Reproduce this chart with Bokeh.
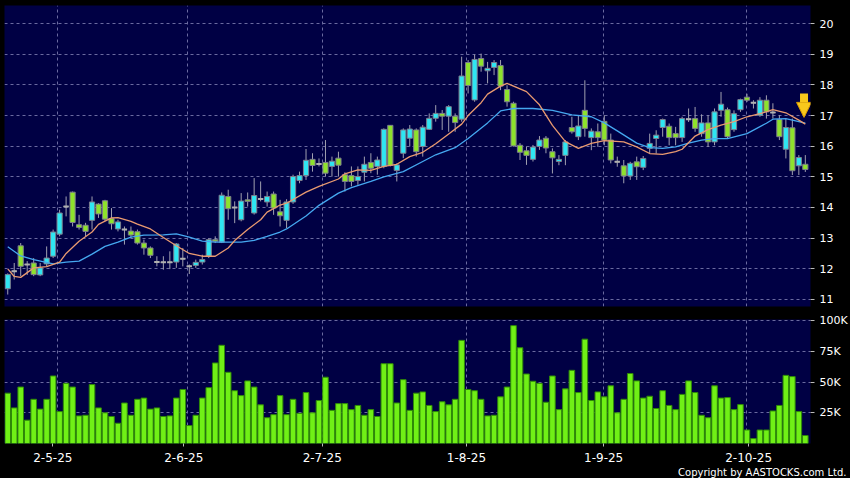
from bokeh.plotting import figure
from bokeh.layouts import column
from bokeh.models import (FixedTicker, Arrow, NormalHead, Title, ColumnDataSource,
                          Range1d)
from bokeh.embed import file_html
from bokeh.resources import INLINE

# ---------------- data ----------------
open_ = [11.35, 11.92, 12.75, 12.14, 12.19, 11.80, 12.16, 12.41, 13.13, 14.03,
         14.50, 13.44, 13.42, 13.58, 14.11, 14.22, 13.64, 13.30, 13.28, 13.23,
         13.21, 12.84, 12.68, 12.22, 12.21, 12.21, 12.22, 12.33, 12.08, 12.11,
         12.22, 12.41, 12.95, 12.87, 14.36, 14.00, 13.60, 14.25, 13.82, 14.28,
         14.18, 14.44, 13.86, 13.58, 14.18, 14.88, 15.04, 15.57, 15.42, 15.47,
         15.34, 15.61, 15.07, 15.04, 14.88, 15.15, 15.47, 15.34, 15.34, 16.68,
         15.21, 15.77, 16.26, 16.53, 15.99, 16.55, 16.91, 17.07, 16.98, 16.98,
         16.88, 18.73, 17.51, 18.86, 18.46, 18.57, 18.63, 17.85, 17.40, 16.03,
         15.85, 15.57, 15.99, 16.26, 15.82, 15.50, 15.70, 16.61, 16.31, 17.17,
         16.28, 16.47, 16.81, 16.20, 15.49, 15.36, 15.03, 15.49, 15.31, 15.93,
         16.25, 16.61, 16.65, 16.41, 16.28, 16.88, 16.90, 16.41, 16.76, 16.14,
         17.17, 17.19, 16.54, 17.19, 17.60, 17.42, 17.01, 17.50, 17.10, 16.87,
         15.90, 16.60, 15.36, 15.41]
high = [11.85, 12.19, 12.84, 12.25, 12.35, 12.19, 12.73, 13.28, 13.93, 14.36,
        14.52, 13.76, 13.50, 14.36, 14.14, 14.25, 13.98, 13.60, 13.38, 13.38,
        13.28, 12.95, 12.73, 12.41, 12.41, 12.57, 12.84, 12.68, 12.14, 12.30,
        12.46, 13.00, 13.06, 14.49, 14.58, 14.20, 14.47, 14.49, 14.96, 14.85,
        14.52, 14.52, 14.25, 14.27, 15.07, 15.17, 15.91, 15.77, 15.60, 16.20,
        15.66, 15.82, 15.15, 15.34, 15.34, 15.66, 15.77, 15.66, 16.58, 16.69,
        15.44, 16.58, 16.69, 16.58, 16.69, 17.07, 17.34, 17.18, 17.34, 17.07,
        18.92, 18.81, 18.99, 19.02, 18.75, 18.81, 18.81, 17.99, 17.45, 16.10,
        15.99, 16.04, 16.33, 16.33, 15.93, 15.71, 16.20, 16.96, 17.01, 18.15,
        16.58, 16.74, 17.01, 16.41, 15.66, 15.55, 15.49, 15.66, 15.68, 16.41,
        16.52, 16.90, 16.74, 16.63, 16.96, 17.23, 17.28, 17.04, 17.01, 17.23,
        17.77, 17.26, 17.17, 17.55, 17.71, 17.50, 17.60, 17.66, 17.40, 17.01,
        16.90, 16.90, 15.71, 15.71]
low = [11.16, 11.65, 11.76, 11.80, 11.76, 11.76, 12.08, 12.35, 13.06, 13.71,
       13.38, 13.28, 13.06, 13.28, 13.66, 13.55, 13.28, 13.22, 12.79, 13.00,
       12.79, 12.46, 12.35, 12.08, 11.97, 11.99, 12.03, 12.08, 11.83, 12.03,
       12.14, 12.35, 12.84, 12.84, 13.60, 13.49, 13.55, 14.03, 13.77, 14.20,
       14.03, 13.76, 13.38, 13.33, 14.12, 14.79, 14.90, 15.17, 15.34, 15.01,
       15.01, 15.01, 14.52, 14.69, 14.74, 14.85, 15.12, 15.07, 15.28, 15.34,
       14.85, 15.61, 15.99, 15.66, 15.66, 16.53, 16.80, 16.53, 16.47, 16.47,
       16.80, 17.72, 17.45, 18.43, 18.05, 18.32, 17.83, 17.29, 15.99, 15.55,
       15.39, 15.50, 15.88, 15.77, 15.11, 15.38, 15.38, 16.41, 16.20, 16.31,
       15.87, 15.98, 16.03, 15.44, 15.33, 14.79, 14.90, 14.90, 15.22, 15.76,
       15.76, 16.31, 16.03, 16.03, 16.14, 16.79, 16.47, 16.31, 15.98, 16.03,
       16.96, 16.25, 16.47, 17.12, 17.44, 17.23, 16.96, 16.90, 16.90, 16.20,
       15.60, 15.06, 15.06, 15.16]
close = [11.81, 11.92, 12.08, 12.14, 11.81, 12.03, 12.35, 13.20, 13.82, 14.03,
         13.51, 13.35, 13.22, 14.18, 13.79, 13.62, 13.47, 13.53, 13.28, 13.10,
         12.84, 12.68, 12.44, 12.22, 12.21, 12.21, 12.81, 12.33, 12.08, 12.21,
         12.30, 12.95, 12.90, 14.40, 13.96, 14.00, 14.21, 14.20, 14.39, 14.28,
         14.36, 13.98, 13.73, 14.18, 15.01, 15.04, 15.54, 15.37, 15.42, 15.12,
         15.51, 15.38, 14.85, 14.85, 15.01, 15.41, 15.28, 15.55, 16.55, 15.37,
         15.39, 16.53, 16.56, 15.82, 16.62, 16.91, 17.07, 16.98, 17.29, 16.77,
         18.29, 17.98, 18.83, 18.61, 18.54, 18.73, 17.96, 17.45, 16.01, 15.80,
         15.70, 15.97, 16.20, 15.94, 15.62, 15.57, 16.14, 16.47, 16.66, 16.58,
         16.49, 16.28, 16.20, 15.55, 15.49, 15.03, 15.44, 15.33, 15.60, 16.09,
         16.36, 16.87, 16.28, 16.28, 16.90, 16.88, 16.58, 16.76, 16.14, 17.12,
         17.37, 16.31, 17.06, 17.52, 17.50, 17.42, 17.50, 17.12, 17.10, 16.31,
         16.61, 15.20, 15.63, 15.24]
volume_k = [41, 29, 46, 19, 36, 28, 36, 55, 26, 49,
            46, 22.5, 23, 48, 29, 25, 22, 16.5, 33, 23,
            36, 37, 28, 29, 22, 22.5, 37, 44, 14.6, 23,
            37, 45.5, 65.6, 80, 58, 43, 39, 51, 46, 31.5,
            21, 23.5, 39, 23.5, 36, 24.6, 41.5, 25, 35, 54,
            27, 32.5, 32.5, 27.6, 31, 23, 27.6, 22, 65, 65,
            33, 52, 27, 41, 42, 31, 26, 34, 31.5, 36,
            84, 44, 43, 36, 22.5, 23, 38, 46, 96, 78,
            56.6, 50.7, 49, 33.6, 55, 27.6, 44.5, 59.6, 41.5, 85,
            35, 42, 38, 47, 25, 36, 57, 51, 37, 38.5,
            28.5, 43, 31, 27.6, 40, 51, 41.5, 23, 21, 47,
            37, 37.4, 27.6, 31.7, 11, 4, 11, 11, 26.5, 31,
            55.5, 54.5, 26, 6.5]

# short moving average (orange) read at these trading-day indices
ma_short_idx = [0, 1, 2, 4, 6, 8, 9, 11, 13, 14, 16, 17, 19, 20, 22, 24, 26, 28,
                30, 32, 34, 35, 37, 39, 40, 42, 43, 46, 48, 51, 52, 54, 56, 58,
                60, 62, 64, 66, 68, 70, 71, 73, 74, 76, 77, 80, 82, 84, 86, 88,
                90, 92, 95, 97, 99, 101, 103, 104, 106, 108, 110, 112, 114, 116,
                118, 120, 122, 123]
ma_short_val = [12.00, 11.75, 11.72, 12.03, 12.07, 12.22, 12.50, 12.90, 13.20,
                13.45, 13.66, 13.67, 13.55, 13.46, 13.30, 13.02, 12.75, 12.50,
                12.41, 12.41, 12.68, 12.92, 13.28, 13.60, 13.85, 14.08, 14.14,
                14.50, 14.69, 14.93, 15.10, 15.23, 15.21, 15.34, 15.41, 15.66,
                15.80, 16.08, 16.40, 16.72, 17.00, 17.42, 17.70, 17.96, 18.05,
                17.78, 17.35, 16.68, 16.15, 15.93, 16.09, 16.18, 16.14, 15.98,
                15.76, 15.73, 15.82, 15.90, 16.33, 16.54, 16.69, 16.80, 16.96,
                17.06, 17.19, 17.09, 16.85, 16.72]
# long moving average (blue)
ma_long_idx = [0, 2, 4, 7, 9, 11, 13, 15, 17, 19, 21, 24, 26, 28, 30, 32, 36, 38,
               40, 42, 43, 46, 48, 51, 53, 56, 58, 61, 64, 66, 69, 71, 74, 76,
               78, 81, 84, 87, 90, 92, 94, 97, 99, 101, 103, 105, 107, 109, 111,
               114, 117, 118, 120, 122, 123]
ma_long_val = [12.72, 12.42, 12.30, 12.16, 12.22, 12.25, 12.48, 12.73, 12.87,
               13.03, 13.10, 13.11, 13.14, 13.03, 12.90, 12.87, 12.87, 12.93,
               13.06, 13.20, 13.30, 13.72, 14.07, 14.47, 14.65, 14.85, 15.00,
               15.17, 15.50, 15.72, 15.95, 16.25, 16.76, 17.15, 17.23, 17.23,
               17.17, 17.02, 16.96, 16.76, 16.50, 16.10, 15.95, 15.93, 15.98,
               16.10, 16.20, 16.25, 16.25, 16.41, 16.75, 16.88, 16.90, 16.80,
               16.75]

date_tick_labels = ["2-5-25", "2-6-25", "2-7-25", "1-8-25", "1-9-25", "2-10-25"]
date_tick_pos = [6.95, 27.15, 48.5, 70.74, 91.9, 114.26]
date_grid_pos = [7.63, 27.67, 48.58, 70.7, 91.8, 114.0]
price_ticks = [11, 12, 13, 14, 15, 16, 17, 18, 19, 20]
vol_ticks = [25000, 50000, 75000, 100000]
vol_tick_labels = ["25K", "50K", "75K", "100K"]

# ---------------- styling ----------------
BG = "#000044"
GRID = "#6a6aa0"
CYAN = "#2fe6f2"
GREEN = "#8ee22c"
FONT = "DejaVu Sans"
W = 850

n = len(close)
xs = list(range(n))
body_col = []
for o, c in zip(open_, close):
    body_col.append(CYAN if c > o else (GREEN if c < o else "#aaaaaa"))

src = ColumnDataSource(dict(
    x=xs, open=open_, close=close, high=high, low=low,
    top=[max(o, c) for o, c in zip(open_, close)],
    bottom=[min(o, c) for o, c in zip(open_, close)],
    color=body_col,
    vol=[v * 1000 for v in volume_k],
))
doji = ColumnDataSource(dict(
    x0=[i - 0.4 for i in xs if open_[i] == close[i]],
    x1=[i + 0.4 for i in xs if open_[i] == close[i]],
    y=[open_[i] for i in xs if open_[i] == close[i]],
))

xr = Range1d(-0.5, n - 0.2)


def style_common(fig):
    fig.background_fill_color = BG
    fig.border_fill_color = "black"
    fig.outline_line_color = None
    fig.toolbar.logo = None
    for g in fig.xgrid:
        g.ticker = FixedTicker(ticks=date_grid_pos)
        g.grid_line_color = GRID
        g.grid_line_dash = "3 3"
        g.grid_line_width = 1
    for g in fig.ygrid:
        g.grid_line_color = GRID
        g.grid_line_dash = "3 3"
        g.grid_line_width = 1


def style_axis(ax, size, tick_out, standoff):
    ax.axis_line_color = None
    ax.major_tick_line_color = "#bbbbbb"
    ax.major_tick_out = tick_out
    ax.major_tick_in = 0
    ax.minor_tick_line_color = None
    ax.major_label_text_color = "white"
    ax.major_label_text_font = FONT
    ax.major_label_text_font_size = size
    ax.major_label_standoff = standoff


# ---------------- price panel ----------------
p = figure(width=W, height=312, x_range=xr, y_range=Range1d(10.77, 20.59),
           output_backend="svg", toolbar_location=None,
           x_axis_location="below", y_axis_location="right",
           min_border_left=4, min_border_right=40, min_border_top=5,
           min_border_bottom=6)
p.xaxis.visible = False
style_common(p)
p.yaxis.ticker = FixedTicker(ticks=price_ticks)
for ax in p.yaxis:
    style_axis(ax, "11px", 4, 5)

p.segment(x0="x", x1="x", y0="high", y1="low", source=src,
          line_color="#a0a0b0", line_width=1)
p.vbar(x="x", width=0.8, top="top", bottom="bottom", source=src,
       fill_color="color", line_color="#7d7d8d", line_width=1)
p.segment(x0="x0", x1="x1", y0="y", y1="y", source=doji,
          line_color="#b0b0b0", line_width=2)
p.line(ma_long_idx, ma_long_val, line_color="#45a8f0", line_width=1.3)
p.line(ma_short_idx, ma_short_val, line_color="#e99a70", line_width=1.3)

tip = ma_short_val[-1] + 0.22
p.add_layout(Arrow(end=NormalHead(size=15, fill_color="#f8c81c",
                                  line_color="#d89a00", line_width=1),
                   x_start=n - 1.2, y_start=tip + 0.78, x_end=n - 1.2, y_end=tip,
                   line_color="#f8c81c", line_width=8))

# ---------------- volume panel ----------------
v = figure(width=W, height=166, x_range=xr, y_range=Range1d(0, 101000),
           output_backend="svg", toolbar_location=None,
           x_axis_location="below", y_axis_location="right",
           min_border_left=4, min_border_right=40, min_border_top=7,
           min_border_bottom=35)
style_common(v)
v.vbar(x="x", width=0.86, top="vol", bottom=0, source=src,
       fill_color="#70f016", line_color="#2f8a08", line_width=1)
v.yaxis.ticker = FixedTicker(ticks=vol_ticks)
v.yaxis.major_label_overrides = {t: l for t, l in zip(vol_ticks, vol_tick_labels)}
v.xaxis.ticker = FixedTicker(ticks=date_tick_pos)
v.xaxis.major_label_overrides = {t: l for t, l in zip(date_tick_pos, date_tick_labels)}
for ax in v.yaxis:
    style_axis(ax, "11px", 4, 5)
for ax in v.xaxis:
    style_axis(ax, "12px", 3, 6)

v.add_layout(Title(text="Copyright by AASTOCKS.com Ltd.", align="right",
                   text_color="white", text_font=FONT, text_font_size="10px",
                   text_font_style="normal", standoff=0, offset=-36), "below")

layout = column(p, v, spacing=0)
layout.styles = {"background-color": "black"}
open("out.html", "w").write(file_html(layout, INLINE))
